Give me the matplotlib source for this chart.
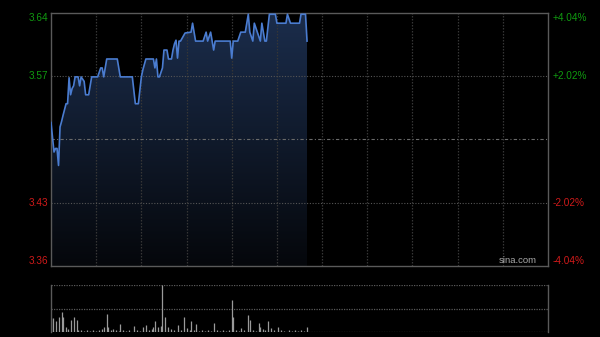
import matplotlib
matplotlib.use('Agg')
import matplotlib.pyplot as plt
import numpy as np
from matplotlib.colors import LinearSegmentedColormap

plt.rcParams['font.family'] = ['Liberation Sans', 'DejaVu Sans']

# intraday price (minutes after 9:30, HK session = 330 min)
minutes = [0, 2, 3, 4, 5, 6, 7, 8, 10, 11, 12, 13, 14, 15, 16, 18, 19, 20, 22, 23,
           25, 27, 31, 33, 34, 35, 37, 44, 46, 54, 56, 58, 60, 61, 63, 68, 69, 70,
           71, 72, 74, 75, 77, 78, 80, 81, 82, 83, 84, 85, 86, 89, 93, 94, 96, 101,
           103, 104, 106, 108, 109, 119, 120, 121, 124, 126, 129, 131, 132, 134, 135,
           137, 139, 140, 142, 143, 145, 149, 150, 156, 157, 159, 165, 166, 169, 170]
prices = [3.519, 3.486, 3.49, 3.49, 3.471, 3.514, 3.52, 3.527, 3.54, 3.54, 3.569,
          3.55, 3.557, 3.56, 3.57, 3.57, 3.56, 3.57, 3.565, 3.55, 3.55, 3.57, 3.57,
          3.58, 3.58, 3.57, 3.59, 3.59, 3.57, 3.57, 3.54, 3.54, 3.57, 3.578, 3.59,
          3.59, 3.58, 3.59, 3.57, 3.57, 3.58, 3.60, 3.60, 3.59, 3.59, 3.60, 3.607,
          3.611, 3.591, 3.61, 3.61, 3.619, 3.62, 3.63, 3.61, 3.61, 3.62, 3.61, 3.62,
          3.60, 3.61, 3.61, 3.591, 3.61, 3.61, 3.62, 3.62, 3.64, 3.62, 3.61, 3.63,
          3.62, 3.61, 3.63, 3.61, 3.61, 3.64, 3.64, 3.63, 3.63, 3.64, 3.63, 3.63,
          3.64, 3.64, 3.61]

vol_minutes = [0, 1, 3, 5, 7, 8, 10, 11, 13, 15, 17, 18, 20, 22, 24, 26, 28, 30, 32,
               34, 35, 37, 38, 40, 41, 43, 45, 46, 48, 50, 52, 55, 57, 59, 61, 63, 65,
               67, 68, 69, 71, 73, 74, 76, 78, 80, 82, 84, 86, 88, 90, 92, 93, 95, 96,
               98, 100, 102, 104, 106, 108, 110, 112, 114, 116, 118, 120, 121, 123,
               125, 126, 128, 131, 132, 134, 136, 138, 139, 141, 142, 144, 146, 148,
               151, 153, 155, 158, 160, 162, 164, 166, 168, 170]
volumes = [14, 14, 11, 15, 20, 15, 5, 3, 12, 15, 12, 2, 2, 1.5, 2, 1.5, 2.5, 1.5, 2,
           3, 5, 17.7, 5, 2, 3, 2, 1.5, 7.7, 2, 1.5, 2, 6.3, 2, 1.5, 5, 7, 2, 3, 5,
           11, 5, 6, 47, 15, 5, 3, 2, 7, 2, 15, 4, 2, 11, 2, 8, 1.5, 2, 1.5, 2, 1.5,
           9, 2, 1.5, 2, 1.5, 2, 32, 15, 2, 1.5, 4, 2, 17, 12, 2, 1.5, 9, 5, 3, 2, 11,
           4, 2, 5, 2, 1.5, 2, 1.5, 2, 1.5, 2, 1.5, 5]

prev_close = 3.50
pct = 0.0404
left_labels = ['3.64', '3.57', '3.43', '3.36']
right_labels = ['+4.04%', '+2.02%', '-2.02%', '-4.04%']
label_colors = ['#109a10', '#109a10', '#d01a1a', '#d01a1a']

ymin = prev_close * (1 - pct)
ymax = prev_close * (1 + pct)

fig = plt.figure(figsize=(6, 3.37), dpi=100, facecolor='black')
ax = fig.add_axes([51 / 600, 1 - 266 / 337, 497 / 600, 253 / 337])
vax = fig.add_axes([51 / 600, 1 - 332 / 337, 497 / 600, 47 / 337])

for a in (ax, vax):
    a.set_facecolor('black')
    a.set_xlim(0, 330)
    a.set_xticks([])
    a.set_yticks([])
    for s in a.spines.values():
        s.set_color('#5a5a5a')
        s.set_linewidth(1)

ax.set_ylim(ymin, ymax)

# grid (drawn over the fill, under the line)
for m in range(30, 330, 30):
    ax.axvline(m, color='#363636', lw=0.9, ls=(0, (1.2, 1.2)), zorder=2.5)
for lv in (prev_close * (1 + pct / 2), prev_close * (1 - pct / 2)):
    ax.axhline(lv, color='#555555', lw=0.8, ls=(0, (1, 1.5)), zorder=2.5)
ax.axhline(prev_close, color='#6a6a6a', lw=0.8, ls=(0, (3, 2, 1, 2)), zorder=2.5)

# gradient fill under price line
cmap = LinearSegmentedColormap.from_list('fill', ['#05070b', '#1b2d4c'])
grad = np.linspace(0, 1, 256).reshape(-1, 1)
im = ax.imshow(grad, extent=[0, 330, ymin, ymax], origin='lower', aspect='auto',
               cmap=cmap, zorder=2)
poly = ax.fill_between(minutes, prices, ymin, facecolor='none', edgecolor='none')
im.set_clip_path(poly.get_paths()[0], transform=ax.transData)
ax.plot(minutes, prices, color='#4a7cd0', lw=1.2, zorder=3)

# axis labels
levels = [ymax, prev_close * (1 + pct / 2), prev_close * (1 - pct / 2), ymin]
valigns = ['top', 'center', 'center', 'bottom']
for lv, ll, rl, c, va in zip(levels, left_labels, right_labels, label_colors, valigns):
    ax.text(-0.006, lv, ll, transform=ax.get_yaxis_transform(), ha='right', va=va,
            color=c, fontsize=7.2)
    ax.text(1.01, lv, rl, transform=ax.get_yaxis_transform(), ha='left', va=va,
            color=c, fontsize=7.2)

ax.text(0.978, 0.02, 'sina.com', transform=ax.transAxes, ha='right', va='center',
        color='#aaaaaa', fontsize=6.8, zorder=4)

# volume panel
vax.set_ylim(0, 47)
vax.spines['top'].set_visible(False)
vax.spines['bottom'].set_visible(False)
for lv in (0.3, 23.5, 46.7):
    vax.axhline(lv, color='#5a5a5a', lw=0.9, ls=(0, (1, 1)), zorder=1)
vax.vlines(vol_minutes, 0, volumes, color='#9a9a9a', lw=0.9, zorder=2)

fig.savefig('out.png', dpi=100, facecolor='black')
